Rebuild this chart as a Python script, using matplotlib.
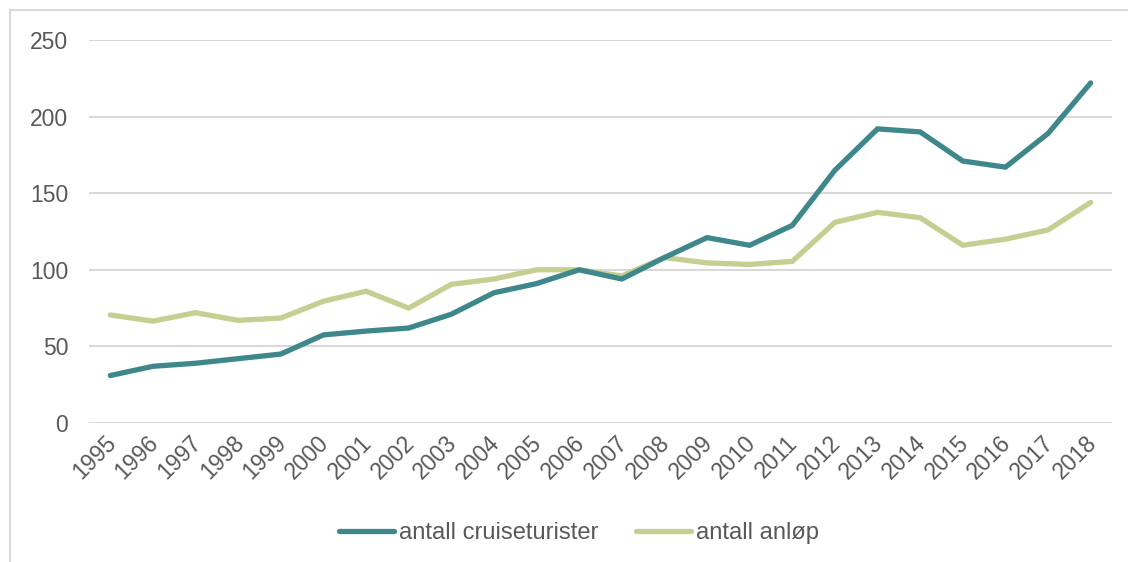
import matplotlib
matplotlib.use('Agg')
import matplotlib.pyplot as plt
import matplotlib.transforms as mtransforms
from matplotlib.patches import Rectangle

# Values (index, 2006 = 100)
years = [str(y) for y in range(1995, 2019)]
cruiseturister = [31, 37, 39, 42, 45, 57.5, 60, 62, 71, 85, 91, 100,
                  94, 108, 121, 116, 129, 165, 192, 190, 171, 167, 189, 222]
anlop = [70.5, 66.5, 72, 67, 68.5, 79.5, 86, 75, 90.5, 94, 100, 100,
         96, 108, 104.5, 103.5, 105.5, 131, 137.5, 134, 116, 120, 126, 144]
yticks = [0, 50, 100, 150, 200, 250]

plt.rcParams['font.family'] = ['Liberation Sans', 'DejaVu Sans']

TEAL = '#3E878A'
GREEN = '#C6CF91'
TEXT = '#595959'
GRID = '#D9D9D9'

fig = plt.figure(figsize=(11.28, 5.62), dpi=100)
ax = fig.add_axes([89 / 1128, 1 - 423 / 562, (1112 - 89) / 1128, 383 / 562])

x = list(range(len(years)))
ax.plot(x, cruiseturister, color=TEAL, lw=3.8, solid_capstyle='round',
        solid_joinstyle='miter', label='antall cruiseturister', zorder=3)
ax.plot(x, anlop, color=GREEN, lw=3.8, solid_capstyle='round',
        solid_joinstyle='miter', label='antall anløp', zorder=2)

ax.set_xlim(-0.5, len(years) - 0.5)
ax.set_ylim(0, 250)
ax.set_yticks(yticks)
ax.set_xticks(x)
ax.set_xticklabels(years, rotation=45, ha='right', rotation_mode='anchor')
ax.tick_params(axis='both', length=0, colors=TEXT, labelsize=16.5)
ax.tick_params(axis='x', pad=6)
ax.tick_params(axis='y', pad=15)

# nudge the rotated year labels a little to the left
shift = mtransforms.ScaledTranslation(-6 / 100, 0, fig.dpi_scale_trans)
for lbl in ax.get_xticklabels():
    lbl.set_transform(lbl.get_transform() + shift)

ax.grid(axis='y', color=GRID, lw=1.5)
ax.set_axisbelow(True)
for s in ax.spines.values():
    s.set_visible(False)

# outer chart border (cropped at right and bottom in the reference)
fig.patches.append(Rectangle((10 / 1128, -0.2), 1.2, 1.2 - 10 / 562,
                             transform=fig.transFigure, fill=False,
                             edgecolor=GRID, lw=1.5))

fig.legend(loc='center', bbox_to_anchor=(579 / 1128, 1 - 533 / 562), ncol=2,
           frameon=False, fontsize=17.1, labelcolor=TEXT, handlelength=2.3,
           handletextpad=0.2, columnspacing=1.6)

fig.savefig('out.png', dpi=100)
